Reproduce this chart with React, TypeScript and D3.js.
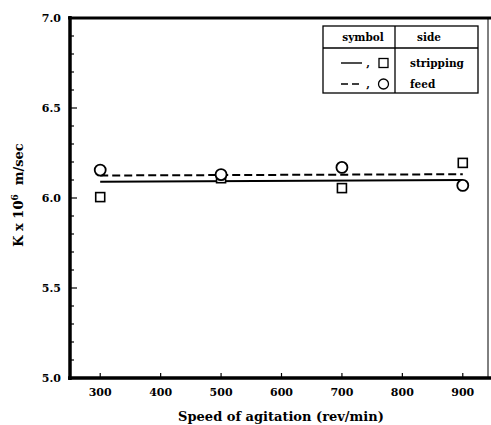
import React, { useRef, useEffect } from 'react';
import * as d3 from 'd3';

// measured points
const speeds = [300, 500, 700, 900];
const strippingK = [6.005, 6.11, 6.055, 6.195];
const feedK = [6.155, 6.13, 6.17, 6.07];

// fitted lines (end points)
const fitX = [300, 900];
const strippingFit = [6.09, 6.1];
const feedFit = [6.125, 6.132];

const xTicks = [300, 400, 500, 600, 700, 800, 900];
const yTicks = [5.0, 5.5, 6.0, 6.5, 7.0];
const yMinorTicks = d3.range(50, 71).map(v => v / 10);

const legendRows = [
  { dash: null, symbol: 'square', side: 'stripping' },
  { dash: '7,4', symbol: 'circle', side: 'feed' },
];

const App = () => {
  const svgRef = useRef(null);

  useEffect(() => {
    const svg = d3.select(svgRef.current);
    svg.selectAll('*').remove(); // clear

    const width = 491;
    const height = 425;
    const font = '"DejaVu Serif", serif';

    const x = d3.scaleLinear().domain([250, 950]).range([70, 493]);
    const y = d3.scaleLinear().domain([5, 7]).range([378, 18]);

    svg.attr('width', width).attr('height', height);
    svg.append('rect').attr('width', width).attr('height', height).attr('fill', '#fff');

    // frame
    svg.append('line').attr('x1', x(250)).attr('x2', x(250)).attr('y1', y(7) - 2).attr('y2', y(5) + 2)
      .attr('stroke', '#000').attr('stroke-width', 3.5);
    svg.append('line').attr('x1', x(250) - 2).attr('x2', width).attr('y1', y(5)).attr('y2', y(5))
      .attr('stroke', '#000').attr('stroke-width', 3.5);
    svg.append('line').attr('x1', x(250) - 2).attr('x2', width).attr('y1', y(7)).attr('y2', y(7))
      .attr('stroke', '#000').attr('stroke-width', 3);
    svg.append('line').attr('x1', 488).attr('x2', 488).attr('y1', y(7)).attr('y2', y(5))
      .attr('stroke', '#000').attr('stroke-width', 1);

    // y ticks (inward)
    svg.append('g').selectAll('line').data(yMinorTicks).join('line')
      .attr('x1', x(250)).attr('x2', d => x(250) + (Math.abs(d * 2 - Math.round(d * 2)) < 1e-6 ? 7 : 4))
      .attr('y1', d => y(d)).attr('y2', d => y(d))
      .attr('stroke', '#000').attr('stroke-width', 1.2);
    svg.append('g').selectAll('text').data(yTicks).join('text')
      .attr('x', 61).attr('y', d => y(d) + 4)
      .attr('text-anchor', 'end')
      .attr('font-family', font).attr('font-weight', 'bold').attr('font-size', 11)
      .text(d => d.toFixed(1));

    // x ticks
    svg.append('g').selectAll('line').data(xTicks).join('line')
      .attr('x1', d => x(d)).attr('x2', d => x(d))
      .attr('y1', y(5)).attr('y2', y(5) - 5)
      .attr('stroke', '#000').attr('stroke-width', 1.2);
    svg.append('g').selectAll('text').data(xTicks).join('text')
      .attr('x', d => x(d)).attr('y', 396)
      .attr('text-anchor', 'middle')
      .attr('font-family', font).attr('font-weight', 'bold').attr('font-size', 11)
      .text(d => d);

    // axis titles
    svg.append('text')
      .attr('x', 281).attr('y', 421)
      .attr('text-anchor', 'middle')
      .attr('font-family', font).attr('font-weight', 'bold').attr('font-size', 13)
      .text('Speed of agitation (rev/min)');

    const yl = svg.append('text')
      .attr('transform', 'translate(23,195) rotate(-90)')
      .attr('text-anchor', 'middle')
      .attr('font-family', font).attr('font-weight', 'bold').attr('font-size', 13);
    yl.append('tspan').text('K x 10');
    yl.append('tspan').attr('dy', -5).attr('font-size', 9).text('6');
    yl.append('tspan').attr('dy', 5).text('\u00a0 m/sec');

    // fit lines
    const line = d3.line<number>().x((d, i) => x(fitX[i])).y(d => y(d));
    svg.append('path').datum(strippingFit).attr('d', line)
      .attr('fill', 'none').attr('stroke', '#000').attr('stroke-width', 2);
    svg.append('path').datum(feedFit).attr('d', line)
      .attr('fill', 'none').attr('stroke', '#000').attr('stroke-width', 2)
      .attr('stroke-dasharray', '8,4');

    // markers
    svg.append('g').selectAll('rect').data(speeds).join('rect')
      .attr('x', (d, i) => x(d) - 4.5).attr('y', (d, i) => y(strippingK[i]) - 4.5)
      .attr('width', 9).attr('height', 9)
      .attr('fill', '#fff').attr('stroke', '#000').attr('stroke-width', 1.6);
    svg.append('g').selectAll('circle').data(speeds).join('circle')
      .attr('cx', d => x(d)).attr('cy', (d, i) => y(feedK[i])).attr('r', 5.5)
      .attr('fill', '#fff').attr('stroke', '#000').attr('stroke-width', 1.8);

    // legend table
    const lg = svg.append('g');
    const L = 323, R = 478, T = 26, H = 48, B = 93, C = 395;
    lg.append('rect').attr('x', L).attr('y', T).attr('width', R - L).attr('height', B - T)
      .attr('fill', '#fff').attr('stroke', '#000').attr('stroke-width', 1.3);
    lg.append('line').attr('x1', L).attr('x2', R).attr('y1', H).attr('y2', H)
      .attr('stroke', '#000').attr('stroke-width', 1.3);
    lg.append('line').attr('x1', C).attr('x2', C).attr('y1', T).attr('y2', B)
      .attr('stroke', '#000').attr('stroke-width', 1.3);
    const lf = (s) => s.attr('font-family', font).attr('font-weight', 'bold').attr('font-size', 10.5);
    lf(lg.append('text').attr('x', 363).attr('y', 41).attr('text-anchor', 'middle').text('symbol'));
    lf(lg.append('text').attr('x', 429).attr('y', 41).attr('text-anchor', 'middle').text('side'));

    legendRows.forEach((r, i) => {
      const cy = 63 + i * 21;
      lg.append('line').attr('x1', 341).attr('x2', 362).attr('y1', cy).attr('y2', cy)
        .attr('stroke', '#000').attr('stroke-width', 1.4)
        .attr('stroke-dasharray', r.dash);
      lf(lg.append('text').attr('x', 368).attr('y', cy + 4).attr('text-anchor', 'middle').text(','));
      if (r.symbol === 'square') {
        lg.append('rect').attr('x', 379).attr('y', cy - 4.5).attr('width', 9).attr('height', 9)
          .attr('fill', 'none').attr('stroke', '#000').attr('stroke-width', 1.3);
      } else {
        lg.append('circle').attr('cx', 383.5).attr('cy', cy).attr('r', 5)
          .attr('fill', 'none').attr('stroke', '#000').attr('stroke-width', 1.3);
      }
      lf(lg.append('text').attr('x', 410).attr('y', cy + 4).text(r.side));
    });
  }, []);

  return <svg ref={svgRef} style={{ position: 'absolute', left: 0, top: 0 }}></svg>;
};

export default App;
